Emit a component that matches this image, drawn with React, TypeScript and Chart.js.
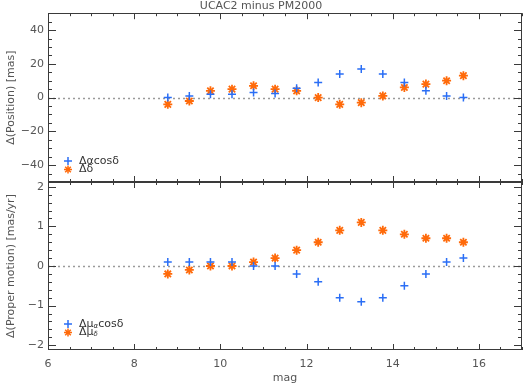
import React, { useEffect, useRef } from "react";
import { Chart, registerables } from "chart.js";

Chart.register(...registerables);

// ---- data ----
const mags = [8.78, 9.28, 9.77, 10.27, 10.77, 11.27, 11.77, 12.27, 12.77, 13.27, 13.77, 14.27, 14.77, 15.25, 15.64];
const dRAcosDec = [0, 1, 2, 2, 3, 2.5, 5.5, 9, 14, 17, 14, 9, 4, 1, 0];
const dDec = [-4, -2, 4, 5, 7, 5, 4, 0, -4, -3, 1, 6, 8, 10, 13];
const dPmRA = [0.1, 0.1, 0.1, 0.1, 0, 0, -0.2, -0.4, -0.8, -0.9, -0.8, -0.5, -0.2, 0.1, 0.2];
const dPmDec = [-0.2, -0.1, 0, 0, 0.1, 0.2, 0.4, 0.6, 0.9, 1.1, 0.9, 0.8, 0.7, 0.7, 0.6];

const xMajorTicks = [6, 8, 10, 12, 14, 16];
const posMajorTicks = [-40, -20, 0, 20, 40];
const pmMajorTicks = [-2, -1, 0, 1, 2];

const TITLE = "UCAC2 minus PM2000";
const X_LABEL = "mag";
const Y_LABEL_TOP = "Δ(Position) [mas]";
const Y_LABEL_BOTTOM = "Δ(Proper motion) [mas/yr]";

const BLUE = "#2a6ef5";
const ORANGE = "#ff6a0a";
const TEXT = "#555555";
const AXIS = "#3a3a3a";
const FONT = "DejaVu Sans";

function minorValues(min: number, max: number, step: number) {
  const out: number[] = [];
  const start = Math.ceil(min / step - 1e-9) * step;
  for (let v = start; v <= max + 1e-9; v += step) out.push(Math.round(v * 1e6) / 1e6);
  return out;
}

function drawMark(ctx: CanvasRenderingContext2D, style: string, x: number, y: number, r: number, color: string, lw: number) {
  ctx.save();
  ctx.strokeStyle = color;
  ctx.lineWidth = lw;
  ctx.beginPath();
  ctx.moveTo(x - r, y);
  ctx.lineTo(x + r, y);
  ctx.moveTo(x, y - r);
  ctx.lineTo(x, y + r);
  if (style === "star") {
    const d = r * Math.SQRT1_2;
    ctx.moveTo(x - d, y - d);
    ctx.lineTo(x + d, y + d);
    ctx.moveTo(x - d, y + d);
    ctx.lineTo(x + d, y - d);
  }
  ctx.stroke();
  ctx.restore();
}

const framePlugin = {
  id: "idlFrame",
  beforeDatasetsDraw(chart: any) {
    const { ctx, chartArea, scales } = chart;
    const y0 = Math.round(scales.y.getPixelForValue(0)) + 0.5;
    ctx.save();
    ctx.strokeStyle = "#9a9a9a";
    ctx.lineWidth = 1.5;
    ctx.setLineDash([2, 3]);
    ctx.beginPath();
    ctx.moveTo(chartArea.left, y0);
    ctx.lineTo(chartArea.right, y0);
    ctx.stroke();
    ctx.restore();
  },
  afterDraw(chart: any, _args: any, opts: any) {
    const { ctx, chartArea, scales } = chart;
    const { left, right, top, bottom } = chartArea;
    ctx.save();
    ctx.strokeStyle = AXIS;
    ctx.lineWidth = 1;
    ctx.strokeRect(Math.round(left) + 0.5, Math.round(top) + 0.5, Math.round(right - left) - 1, Math.round(bottom - top) - 1);
    ctx.beginPath();
    const xs = scales.x;
    const ys = scales.y;
    const xMinor = minorValues(xs.min, xs.max, opts.xMinorStep);
    xMinor.forEach((v: number) => {
      const isMajor = xMajorTicks.some((m) => Math.abs(m - v) < 1e-6);
      const len = isMajor ? 6 : 3;
      const px = Math.round(xs.getPixelForValue(v)) + 0.5;
      ctx.moveTo(px, bottom);
      ctx.lineTo(px, bottom - len);
      ctx.moveTo(px, top);
      ctx.lineTo(px, top + len);
    });
    const yMinor = minorValues(ys.min, ys.max, opts.yMinorStep);
    yMinor.forEach((v: number) => {
      const isMajor = opts.yMajor.some((m: number) => Math.abs(m - v) < 1e-6);
      const len = isMajor ? 8 : 4;
      const py = Math.round(ys.getPixelForValue(v)) + 0.5;
      ctx.moveTo(left, py);
      ctx.lineTo(left + len, py);
      ctx.moveTo(right, py);
      ctx.lineTo(right - len, py);
    });
    ctx.stroke();

    // legend
    const lg = opts.legend;
    lg.entries.forEach((e: any, i: number) => {
      const cy = bottom - lg.offsetBottom + i * 8.5;
      drawMark(ctx, e.style, left + 20, cy, 4, e.color, 1.5);
      let tx = left + 31;
      ctx.fillStyle = "#333";
      ctx.textBaseline = "middle";
      ctx.textAlign = "left";
      e.parts.forEach((p: any) => {
        ctx.font = p.sub ? `italic 7px ${FONT}` : `11px ${FONT}`;
        ctx.fillText(p.t, tx, cy + (p.sub ? 2 : 0));
        tx += ctx.measureText(p.t).width;
      });
    });
    ctx.restore();
  },
};

const tickFmt = (v: any) => String(v).replace("-", "\u2212");

const zeroPad = (s: any) => {
  s.paddingTop = 0;
  s.paddingBottom = 0;
  s.paddingLeft = 0;
  s.paddingRight = 0;
};

function makeConfig(opts: {
  ra: number[];
  dec: number[];
  raLabel: string;
  decLabel: string;
  yMin: number;
  yMax: number;
  yTicks: number[];
  yMinorStep: number;
  yLabel: string;
  top: boolean;
  legend: any;
}) {
  return {
    type: "scatter",
    data: {
      datasets: [
        {
          label: opts.raLabel,
          data: mags.map((m, i) => ({ x: m, y: opts.ra[i] })),
          pointStyle: "cross",
          pointRadius: 4,
          borderColor: BLUE,
          backgroundColor: BLUE,
          pointBorderWidth: 1.5,
        },
        {
          label: opts.decLabel,
          data: mags.map((m, i) => ({ x: m, y: opts.dec[i] })),
          pointStyle: "star",
          pointRadius: 4.5,
          borderColor: ORANGE,
          backgroundColor: ORANGE,
          pointBorderWidth: 1.8,
        },
      ],
    },
    options: {
      responsive: false,
      animation: false,
      events: [],
      layout: {
        autoPadding: false,
        padding: opts.top ? { left: 0, right: 2, top: 0, bottom: 1 } : { left: 0, right: 2, top: 1, bottom: 0 },
      },
      plugins: {
        legend: { display: false },
        tooltip: { enabled: false },
        title: {
          display: opts.top,
          text: TITLE,
          color: TEXT,
          font: { family: FONT, size: 11, weight: "normal" },
          padding: { top: 0, bottom: 0 },
        },
        idlFrame: {
          xMinorStep: 0.5,
          yMinorStep: opts.yMinorStep,
          yMajor: opts.yTicks,
          legend: opts.legend,
        },
      },
      scales: {
        x: {
          type: "linear",
          min: 6,
          max: 17,
          display: !opts.top,
          grid: { display: false, drawTicks: false },
          border: { display: false },
          afterBuildTicks: (s: any) => {
            s.ticks = xMajorTicks.map((v) => ({ value: v }));
          },
          afterFit: (s: any) => {
            if (!opts.top) s.height = 36;
            zeroPad(s);
          },
          ticks: { color: TEXT, padding: 8, font: { family: FONT, size: 11 }, callback: tickFmt, maxRotation: 0, autoSkip: false },
          title: {
            display: true,
            text: X_LABEL,
            color: TEXT,
            font: { family: FONT, size: 11 },
            padding: { top: 0, bottom: 1.5 },
          },
        },
        y: {
          type: "linear",
          min: opts.yMin,
          max: opts.yMax,
          grid: { display: false, drawTicks: false },
          border: { display: false },
          afterBuildTicks: (s: any) => {
            s.ticks = opts.yTicks.map((v) => ({ value: v }));
          },
          afterFit: (s: any) => {
            s.width = 48;
            zeroPad(s);
          },
          ticks: { color: TEXT, padding: 4, font: { family: FONT, size: 11 }, callback: tickFmt, autoSkip: false },
          title: {
            display: true,
            text: opts.yLabel,
            color: TEXT,
            font: { family: FONT, size: 11 },
            padding: { top: 4.5, bottom: 0 },
          },
        },
      },
    },
    plugins: [framePlugin],
  };
}

export default function App() {
  const topRef = useRef<HTMLCanvasElement>(null);
  const botRef = useRef<HTMLCanvasElement>(null);

  useEffect(() => {
    const c1 = new Chart(
      topRef.current as HTMLCanvasElement,
      makeConfig({
        ra: dRAcosDec,
        dec: dDec,
        raLabel: "Δαcosδ",
        decLabel: "Δδ",
        yMin: -50,
        yMax: 50,
        yTicks: posMajorTicks,
        yMinorStep: 5,
        yLabel: Y_LABEL_TOP,
        top: true,
        legend: {
          offsetBottom: 21,
          entries: [
            { style: "cross", color: BLUE, parts: [{ t: "Δαcosδ" }] },
            { style: "star", color: ORANGE, parts: [{ t: "Δδ" }] },
          ],
        },
      }) as any
    );
    const c2 = new Chart(
      botRef.current as HTMLCanvasElement,
      makeConfig({
        ra: dPmRA,
        dec: dPmDec,
        raLabel: "Δμαcosδ",
        decLabel: "Δμδ",
        yMin: -2.12,
        yMax: 2.12,
        yTicks: pmMajorTicks,
        yMinorStep: 0.2,
        yLabel: Y_LABEL_BOTTOM,
        top: false,
        legend: {
          offsetBottom: 26,
          entries: [
            { style: "cross", color: BLUE, parts: [{ t: "Δμ" }, { t: "α", sub: true }, { t: "cosδ" }] },
            { style: "star", color: ORANGE, parts: [{ t: "Δμ" }, { t: "δ", sub: true }] },
          ],
        },
      }) as any
    );
    return () => {
      c1.destroy();
      c2.destroy();
    };
  }, []);

  return (
    <div style={{ position: "absolute", left: 0, top: 0, width: 524, height: 386, background: "#fff" }}>
      <canvas ref={topRef} width={524} height={183} style={{ position: "absolute", left: 0, top: 0, width: 524, height: 183 }} />
      <canvas ref={botRef} width={524} height={205} style={{ position: "absolute", left: 0, top: 181, width: 524, height: 205 }} />
    </div>
  );
}
